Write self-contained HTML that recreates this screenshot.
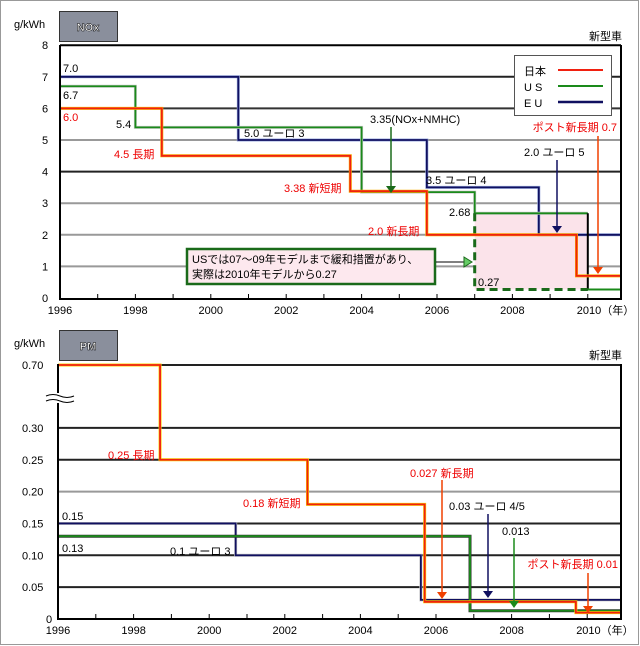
<!DOCTYPE html>
<html><head><meta charset="utf-8">
<style>
html,body{margin:0;padding:0;background:#fff}
svg{display:block}
text{font-family:"Liberation Sans","Noto Sans CJK JP",sans-serif;font-size:11px}
</style></head>
<body>
<svg id="c" width="640" height="646" viewBox="0 0 640 646">
<rect x="0.5" y="0.5" width="638" height="644" fill="#fff" stroke="#999"/>
<g id="top"></g>
<g id="bot"></g>
</svg>
<script>
// ---- shared x axis ----
const years = [1996,1998,2000,2002,2004,2006,2008];
const yearLabelEnd = "2010（年）";
// ---- NOx data: [startYear, value] steps ----
const noxJapan = [[1996,6.0],[1998.7,4.5],[2003.7,3.38],[2005.73,2.0],[2009.7,0.7]];
const noxUS = [[1996,6.7],[1998,5.4],[2004,3.35],[2007,2.68],[2010,0.27]];
const noxEU = [[1996,7.0],[2000.73,5.0],[2005.73,3.5],[2008.7,2.0]];
const noxUSActual = [[2007,0.27]];
const noxTicks = [0,1,2,3,4,5,6,7,8];
// ---- PM data ----
const pmJapan = [[1996,0.70],[1998.7,0.25],[2002.6,0.18],[2005.7,0.027],[2009.7,0.01]];
const pmUS = [[1996,0.13],[2006.9,0.013]];
const pmEU = [[1996,0.15],[2000.7,0.10],[2005.6,0.03]];
const pmTicks = [0,0.05,0.10,0.15,0.20,0.25,0.30];
const pmTop = 0.70;

const NS="http://www.w3.org/2000/svg";
function mk(parent,tag,attrs,name,text){
  const e=document.createElementNS(NS,tag);
  for(const k in attrs)e.setAttribute(k,attrs[k]);
  
  
  if(text!==undefined)e.textContent=text;
  parent.appendChild(e);return e;
}
const xT=yr=>60+(yr-1996)*37.7;
const xB=yr=>58+(yr-1996)*37.8;
const yT=v=>298-v*31.6;
const yB=v=>v>0.3?365:619-v*637;

function stepPath(data,xf,yf,xEnd){
  let d="";
  data.forEach((p,i)=>{
    const x0=xf(p[0]),y=yf(p[1]);
    const x1=i<data.length-1?xf(data[i+1][0]):xEnd;
    if(i===0)d+="M"+x0+","+y; else d+="V"+y;
    d+="H"+x1;
  });
  return d;
}
function drawSeries(g,data,xf,yf,xEnd,col,edge,name){
  const d=stepPath(data,xf,yf,xEnd);
  mk(g,'path',{d:d,fill:'none',stroke:edge,'stroke-width':3},name+'-edge');
  mk(g,'path',{d:d,fill:'none',stroke:col,'stroke-width':1.8},name);
}
function arrow(g,x,y1,y2,col,name){
  mk(g,'line',{x1:x,y1:y1,x2:x,y2:y2-5,stroke:col,'stroke-width':1.5},name);
  mk(g,'path',{d:`M${x-5},${y2-7}L${x+5},${y2-7}L${x},${y2}Z`,fill:col},name+'-head');
}
function axisX(g,xf,yAxis,left,right){
  mk(g,'line',{x1:left,y1:yAxis,x2:right,y2:yAxis,stroke:'#000','stroke-width':2},'x-axis');
  for(let yr=1997;yr<=2010;yr++){
    mk(g,'line',{x1:xf(yr),y1:yAxis,x2:xf(yr),y2:yAxis-5,stroke:'#000'},'x-tick');
  }
  years.forEach(yr=>mk(g,'text',{x:xf(yr),y:yAxis+15,'text-anchor':'middle'},'x-tick-label',String(yr)));
  mk(g,'text',{x:xf(2010)-11,y:yAxis+15},'x-tick-label',yearLabelEnd);
}
function titleBox(g,y,label){
  mk(g,'text',{x:14,y:y+17},'y-axis-unit','g/kWh');
  mk(g,'rect',{x:59.5,y:y+0.5,width:58,height:30,fill:'#8a8f9c',stroke:'#333'},'chart-title-box');
  mk(g,'text',{x:88,y:y+20,'text-anchor':'middle','font-size':13,'font-weight':'bold',fill:'#fff',stroke:'#000','stroke-width':0.5},'chart-title',label);
  mk(g,'text',{x:622,y:y+29,'text-anchor':'end'},'new-vehicle-label','新型車');
}

// ======== TOP NOx ========
const t=document.getElementById('top');
titleBox(t,11,'NOx');
const gridCols={1:'#999',2:'#999',3:'#999',4:'#222',5:'#999',6:'#333',7:'#222',8:'#000'};
noxTicks.forEach(v=>{
  if(v>0)mk(t,'line',{x1:60,y1:yT(v),x2:621,y2:yT(v),stroke:gridCols[v],'stroke-width':2},'grid-line');
  mk(t,'text',{x:45,y:yT(v)+4,'text-anchor':'middle','font-size':12},'y-tick-label',String(v));
});
mk(t,'rect',{x:xT(2007),y:yT(2.68),width:xT(2010)-xT(2007),height:yT(0.27)-yT(2.68),fill:'#fbe3ea'},'us-relief-region');
drawSeries(t,noxEU,xT,yT,621,'#101060','#9ad','eu-nox-line');
drawSeries(t,noxUS.slice(0,4),xT,yT,xT(2010),'#1a8a1a','#ccc','us-nox-line');
mk(t,'path',{d:`M${xT(2010)},${yT(2.68)}V${yT(0.27)}H621`,fill:'none',stroke:'#000','stroke-width':2},'us-nox-2010-line');
mk(t,'path',{d:`M${xT(2010)},${yT(0.27)}H621`,fill:'none',stroke:'#1a8a1a','stroke-width':2},'us-nox-2010-green');
mk(t,'path',{d:`M${xT(noxUSActual[0][0])},${yT(noxUS[3][1])}V${yT(noxUSActual[0][1])}H${xT(2010)}`,fill:'none',stroke:'#1a6a1a','stroke-width':3,'stroke-dasharray':'8,5'},'us-nox-dashed-line');
drawSeries(t,noxJapan,xT,yT,621,'#f02010','#f8b000','japan-nox-line');
mk(t,'line',{x1:60,y1:45,x2:60,y2:299,stroke:'#000','stroke-width':2},'y-axis');
mk(t,'line',{x1:621,y1:45,x2:621,y2:299,stroke:'#000','stroke-width':2},'right-axis');
axisX(t,xT,299,59,622);
mk(t,'text',{x:63,y:72},'label-eu-7','7.0');
mk(t,'text',{x:63,y:99},'label-us-6.7','6.7');
mk(t,'text',{x:63,y:121,fill:'#e00'},'label-jp-6','6.0');
mk(t,'text',{x:116,y:128},'label-us-5.4','5.4');
mk(t,'text',{x:114,y:158,fill:'#e00'},'label-jp-long','4.5 長期');
mk(t,'text',{x:244,y:137},'label-euro3','5.0 ユーロ 3');
mk(t,'text',{x:284,y:192,fill:'#e00'},'label-jp-new-short','3.38 新短期');
mk(t,'text',{x:370,y:123},'label-us-3.35','3.35(NOx+NMHC)');
arrow(t,391,127,193,'#1a6a1a','arrow-us-3.35');
mk(t,'text',{x:368,y:235,fill:'#e00'},'label-jp-new-long','2.0 新長期');
mk(t,'text',{x:426,y:184},'label-euro4','3.5 ユーロ 4');
mk(t,'text',{x:449,y:216},'label-us-2.68','2.68');
mk(t,'text',{x:524,y:156},'label-euro5','2.0 ユーロ 5');
arrow(t,557,160,233,'#101060','arrow-euro5');
mk(t,'text',{x:617,y:131,fill:'#e00','text-anchor':'end'},'label-jp-post-new-long','ポスト新長期 0.7');
arrow(t,598,136,274,'#f04000','arrow-jp-post');
mk(t,'text',{x:478,y:286},'label-us-0.27','0.27');
mk(t,'rect',{x:187,y:249,width:248,height:35,fill:'#fde8ee',stroke:'#1a6a1a','stroke-width':2.5},'us-note-box');
mk(t,'text',{x:192,y:263},'us-note-line1','USでは07～09年モデルまで緩和措置があり、');
mk(t,'text',{x:192,y:278},'us-note-line2','実際は2010年モデルから0.27');
mk(t,'line',{x1:436,y1:262,x2:468,y2:262,stroke:'#000'},'us-note-arrow');
mk(t,'path',{d:'M464,257L472,262L464,267Z',fill:'#6c6',stroke:'#1a6a1a'},'us-note-arrow-head');
mk(t,'rect',{x:514.5,y:55.5,width:97,height:60,fill:'#fff',stroke:'#555'},'legend-box');
mk(t,'text',{x:524,y:75,'font-size':13},'legend-japan','日本');
mk(t,'line',{x1:558,y1:70,x2:603,y2:70,stroke:'#f02010','stroke-width':2},'legend-japan-line');
mk(t,'text',{x:524,y:91,'font-size':13},'legend-us','U S');
mk(t,'line',{x1:558,y1:86,x2:603,y2:86,stroke:'#1a8a1a','stroke-width':2},'legend-us-line');
mk(t,'text',{x:524,y:107,'font-size':13},'legend-eu','E U');
mk(t,'line',{x1:558,y1:102,x2:603,y2:102,stroke:'#101060','stroke-width':2.5},'legend-eu-line');

// ======== BOTTOM PM ========
const b=document.getElementById('bot');
titleBox(b,330,'PM');
mk(b,'line',{x1:58,y1:yB(pmTop),x2:621,y2:yB(pmTop),stroke:'#222','stroke-width':2},'grid-line');
mk(b,'text',{x:22,y:yB(pmTop)+4,'font-size':12},'y-tick-label','0.70');
pmTicks.forEach(v=>{
  if(v>0)mk(b,'line',{x1:58,y1:yB(v),x2:621,y2:yB(v),stroke:Math.abs(v-0.2)<1e-9?'#999':'#222','stroke-width':2},'grid-line');
  mk(b,'text',{x:v===0?46:22,y:yB(v)+4,'font-size':12},'y-tick-label',v===0?'0':v.toFixed(2));
});
drawSeries(b,pmEU,xB,yB,621,'#101060','#ccc','eu-pm-line');
drawSeries(b,pmUS,xB,yB,621,'#1a8a1a','#333','us-pm-line');
drawSeries(b,pmJapan,xB,yB,621,'#f02010','#f8d000','japan-pm-line');
mk(b,'line',{x1:58,y1:364,x2:58,y2:620,stroke:'#000','stroke-width':2},'y-axis');
mk(b,'rect',{x:44,y:393,width:30,height:10,fill:'#fff'},'axis-break-gap');
mk(b,'path',{d:'M46,396q7,-3 14,0t14,0M46,401q7,-3 14,0t14,0',fill:'none',stroke:'#000'},'axis-break');
mk(b,'line',{x1:621,y1:364,x2:621,y2:620,stroke:'#000','stroke-width':2},'right-axis');
axisX(b,xB,619,57,622);
mk(b,'text',{x:108,y:459,fill:'#e00'},'label-jp-long','0.25 長期');
mk(b,'text',{x:243,y:507,fill:'#e00'},'label-jp-new-short','0.18 新短期');
mk(b,'text',{x:62,y:520},'label-eu-0.15','0.15');
mk(b,'text',{x:62,y:552},'label-us-0.13','0.13');
mk(b,'text',{x:170,y:555},'label-euro3','0.1  ユーロ 3');
mk(b,'text',{x:410,y:477,fill:'#e00'},'label-jp-new-long','0.027 新長期');
arrow(b,442,480,599,'#f04000','arrow-jp-new-long');
mk(b,'text',{x:449,y:510},'label-euro45','0.03 ユーロ 4/5');
arrow(b,488,514,598,'#101060','arrow-euro45');
mk(b,'text',{x:502,y:535},'label-us-0.013','0.013');
arrow(b,514,538,608,'#1a8a1a','arrow-us-0.013');
mk(b,'text',{x:618,y:568,fill:'#e00','text-anchor':'end'},'label-jp-post','ポスト新長期 0.01');
arrow(b,588,573,613,'#f04000','arrow-jp-post');
</script>
</body></html>
